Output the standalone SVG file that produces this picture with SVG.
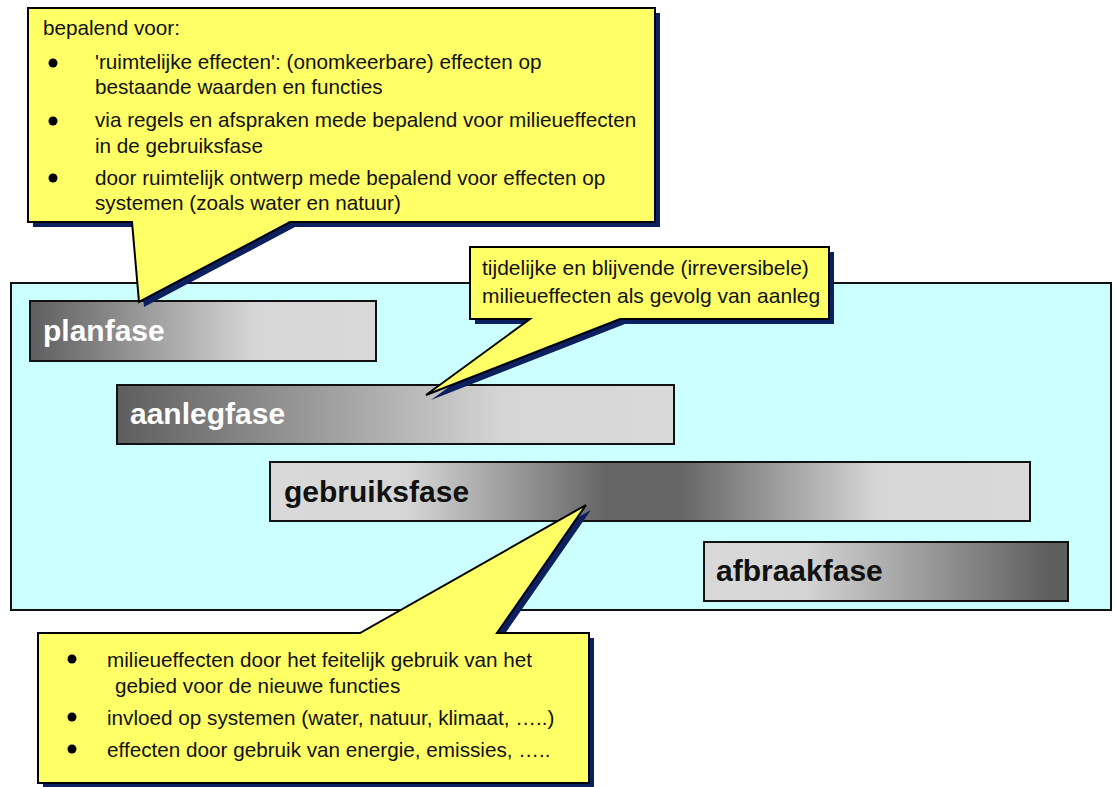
<svg xmlns="http://www.w3.org/2000/svg" width="1118" height="787" viewBox="0 0 1118 787">
<style>
.txt{font-family:"Liberation Sans",Arial,sans-serif;font-size:20.7px;fill:#111}
.mid{font-size:21px}
.ph{font-family:"Liberation Sans",Arial,sans-serif;font-size:30px;font-weight:bold}
.bar{stroke:#111;stroke-width:2}
.call{fill:#ffff66;stroke:#000;stroke-width:2;stroke-linejoin:miter}
.shadow{fill:#0c1f5e}
.dot{fill:#000}
</style>
<defs>
<linearGradient id="gPlan" x1="0" y1="0" x2="1" y2="0">
<stop offset="0" stop-color="#5e5e5e"/><stop offset="0.65" stop-color="#d6d6d6"/><stop offset="1" stop-color="#d9d9d9"/>
</linearGradient>
<linearGradient id="gAanleg" x1="0" y1="0" x2="1" y2="0">
<stop offset="0" stop-color="#5e5e5e"/><stop offset="0.7" stop-color="#d6d6d6"/><stop offset="1" stop-color="#d9d9d9"/>
</linearGradient>
<linearGradient id="gGebruik" x1="0" y1="0" x2="1" y2="0">
<stop offset="0" stop-color="#d9d9d9"/><stop offset="0.18" stop-color="#d6d6d6"/><stop offset="0.44" stop-color="#666"/><stop offset="0.54" stop-color="#666"/><stop offset="0.8" stop-color="#d6d6d6"/><stop offset="1" stop-color="#d9d9d9"/>
</linearGradient>
<linearGradient id="gAfbraak" x1="0" y1="0" x2="1" y2="0">
<stop offset="0" stop-color="#d9d9d9"/><stop offset="0.28" stop-color="#d4d4d4"/><stop offset="0.95" stop-color="#5e5e5e"/><stop offset="1" stop-color="#5e5e5e"/>
</linearGradient>
</defs>

<g id="area">
<rect x="11" y="283" width="1100" height="327" fill="#ccffff" stroke="#111" stroke-width="2"/>
</g>

<g id="planfase">
<rect class="bar" x="30" y="301" width="346" height="60" fill="url(#gPlan)"/>
<text class="ph" x="43" y="341" fill="#fff">planfase</text>
</g>
<g id="aanlegfase">
<rect class="bar" x="117" y="385" width="557" height="59" fill="url(#gAanleg)"/>
<text class="ph" x="130" y="424" fill="#fff">aanlegfase</text>
</g>
<g id="gebruiksfase">
<rect class="bar" x="270" y="462" width="760" height="59" fill="url(#gGebruik)"/>
<text class="ph" x="284" y="502" fill="#111">gebruiksfase</text>
</g>
<g id="afbraakfase">
<rect class="bar" x="704" y="542" width="364" height="59" fill="url(#gAfbraak)"/>
<text class="ph" x="716" y="581" fill="#111">afbraakfase</text>
</g>

<g id="connectors"></g>

<g id="callout-plan">
<path class="shadow" transform="translate(5,5)" d="M28,8 H655 V222 H290 L139,302 L132,222 H28 Z"/>
<path class="call" d="M28,8 H655 V222 H290 L139,302 L132,222 H28 Z"/>
<text class="txt" x="43" y="35">bepalend voor:</text>
<circle class="dot" cx="53" cy="63" r="4.5"/>
<text class="txt" x="95" y="69">'ruimtelijke effecten': (onomkeerbare) effecten op</text>
<text class="txt" x="95" y="94">bestaande waarden en functies</text>
<circle class="dot" cx="53" cy="121" r="4.5"/>
<text class="txt" x="95" y="127">via regels en afspraken mede bepalend voor milieueffecten</text>
<text class="txt" x="95" y="153">in de gebruiksfase</text>
<circle class="dot" cx="53" cy="178" r="4.5"/>
<text class="txt" x="95" y="185">door ruimtelijk ontwerp mede bepalend voor effecten op</text>
<text class="txt" x="95" y="210">systemen (zoals water en natuur)</text>
</g>

<g id="callout-aanleg">
<path class="shadow" transform="translate(5,5)" d="M470,247 H829 V319 H620 L426,395 L530,319 H470 Z"/>
<path class="call" d="M470,247 H829 V319 H620 L426,395 L530,319 H470 Z"/>
<text class="txt mid" x="482" y="275">tijdelijke en blijvende (irreversibele)</text>
<text class="txt mid" x="482" y="303">milieueffecten als gevolg van aanleg</text>
</g>

<g id="callout-gebruik">
<path class="shadow" transform="translate(5,5)" d="M38,633 H360 L586,505 L497,633 H589 V783 H38 Z"/>
<path class="call" d="M38,633 H360 L586,505 L497,633 H589 V783 H38 Z"/>
<circle class="dot" cx="72" cy="659" r="4.5"/>
<text class="txt" x="107" y="667">milieueffecten door het feitelijk gebruik van het</text>
<text class="txt" x="115" y="693">gebied voor de nieuwe functies</text>
<circle class="dot" cx="72" cy="717" r="4.5"/>
<text class="txt" x="107" y="725">invloed op systemen (water, natuur, klimaat, …..)</text>
<circle class="dot" cx="72" cy="749" r="4.5"/>
<text class="txt" x="107" y="757">effecten door gebruik van energie, emissies, …..</text>
</g>
</svg>
